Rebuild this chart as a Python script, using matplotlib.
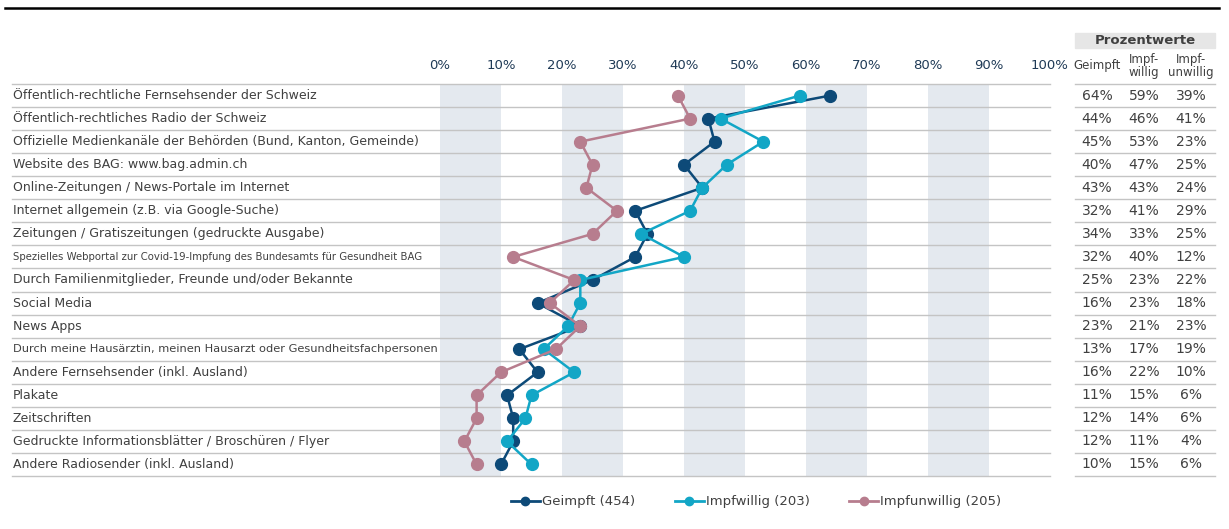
import matplotlib
matplotlib.use("Agg")
import matplotlib.pyplot as plt
from matplotlib.lines import Line2D
from matplotlib.patches import Rectangle
import matplotlib.transforms as mtransforms

plt.rcParams['font.family'] = ['DejaVu Sans']

categories = [
    "Öffentlich-rechtliche Fernsehsender der Schweiz",
    "Öffentlich-rechtliches Radio der Schweiz",
    "Offizielle Medienkanäle der Behörden (Bund, Kanton, Gemeinde)",
    "Website des BAG: www.bag.admin.ch",
    "Online-Zeitungen / News-Portale im Internet",
    "Internet allgemein (z.B. via Google-Suche)",
    "Zeitungen / Gratiszeitungen (gedruckte Ausgabe)",
    "Spezielles Webportal zur Covid-19-Impfung des Bundesamts für Gesundheit BAG",
    "Durch Familienmitglieder, Freunde und/oder Bekannte",
    "Social Media",
    "News Apps",
    "Durch meine Hausärztin, meinen Hausarzt oder Gesundheitsfachpersonen",
    "Andere Fernsehsender (inkl. Ausland)",
    "Plakate",
    "Zeitschriften",
    "Gedruckte Informationsblätter / Broschüren / Flyer",
    "Andere Radiosender (inkl. Ausland)",
]
# long labels are set in a smaller size so they fit the label column
label_sizes = {7: 7.3, 11: 8.2}

geimpft = [64, 44, 45, 40, 43, 32, 34, 32, 25, 16, 23, 13, 16, 11, 12, 12, 10]
impfwillig = [59, 46, 53, 47, 43, 41, 33, 40, 23, 23, 21, 17, 22, 15, 14, 11, 15]
impfunwillig = [39, 41, 23, 25, 24, 29, 25, 12, 22, 18, 23, 19, 10, 6, 6, 4, 6]

series = [
    ("Geimpft (454)", geimpft, "#0d4a78"),
    ("Impfwillig (203)", impfwillig, "#12a6c6"),
    ("Impfunwillig (205)", impfunwillig, "#b77d8e"),
]
table_cols = ["Geimpft", "Impf-\nwillig", "Impf-\nunwillig"]
xticks = list(range(0, 101, 10))

W, H = 1229, 529
fig = plt.figure(figsize=(W / 100, H / 100), dpi=100)

def fx(px):
    return px / W

def fy(py):
    return 1 - py / H

# plot area in pixel coordinates
left, right, top, bottom = 440, 1050, 84, 476
ax = fig.add_axes([fx(left), fy(bottom), fx(right - left), (bottom - top) / H])
n = len(categories)
ax.set_xlim(0, 100)
ax.set_ylim(n - 0.5, -0.5)
for s in ax.spines.values():
    s.set_visible(False)
ax.set_yticks([])
ax.xaxis.tick_top()
ax.set_xticks(xticks)
ax.set_xticklabels([f"{v}%" for v in xticks])
ax.tick_params(axis="x", length=0, pad=9, labelsize=9.5, labelcolor="#1f3a56")

# alternating vertical bands
for x0 in range(0, 100, 20):
    ax.axvspan(x0, x0 + 10, color="#e4e9ef", zorder=0, lw=0)

text_col = "#404040"
grid_col = "#c4c4c4"
tr = mtransforms.blended_transform_factory(fig.transFigure, ax.transData)

# row separators across label area and plot, and in the table
for k in range(n + 1):
    y = k - 0.5
    ax.plot([fx(12), fx(right)], [y, y], transform=tr, color=grid_col,
            lw=1, clip_on=False, zorder=1)
    ax.plot([fx(1075), fx(1215)], [y, y], transform=tr, color=grid_col,
            lw=1, clip_on=False, zorder=1)

for i, cat in enumerate(categories):
    ax.text(fx(13), i, cat, transform=tr, ha="left", va="center",
            fontsize=label_sizes.get(i, 9.0), color=text_col)

ys = list(range(n))
for label, vals, col in series:
    ax.plot(vals, ys, color=col, lw=1.8, marker="o", markersize=8.5,
            zorder=3, clip_on=False, label=label)

# percentages table on the right
col_x = [1097, 1144, 1191]
for j, vals in enumerate([geimpft, impfwillig, impfunwillig]):
    for i, v in enumerate(vals):
        ax.text(fx(col_x[j]), i, f"{v}%", transform=tr, ha="center",
                va="center", fontsize=10, color=text_col)
    fig.text(fx(col_x[j]), fy(66), table_cols[j], ha="center", va="center",
             fontsize=8.5, color=text_col, linespacing=1.05)

fig.patches.append(Rectangle((fx(1075), fy(48)), fx(140), 15 / H,
                             transform=fig.transFigure, color="#e6e6e6", zorder=0))
fig.text(fx(1145), fy(41), "Prozentwerte", ha="center", va="center",
         fontsize=9.5, fontweight="bold", color=text_col)

# heavy rule at the top
fig.add_artist(Line2D([fx(5), fx(1219)], [fy(8), fy(8)], color="black", lw=1.8))

handles = [Line2D([], [], color=c, lw=2, marker="o", markersize=6) for _, _, c in series]
ax.legend(handles, [s[0] for s in series], loc="center",
          bbox_to_anchor=(fx(756), fy(502)), bbox_transform=fig.transFigure,
          ncol=3, frameon=False, fontsize=9.5, handlelength=2.2,
          handletextpad=0.15, columnspacing=3.0, labelcolor=text_col)

fig.savefig("out.png", dpi=100)
